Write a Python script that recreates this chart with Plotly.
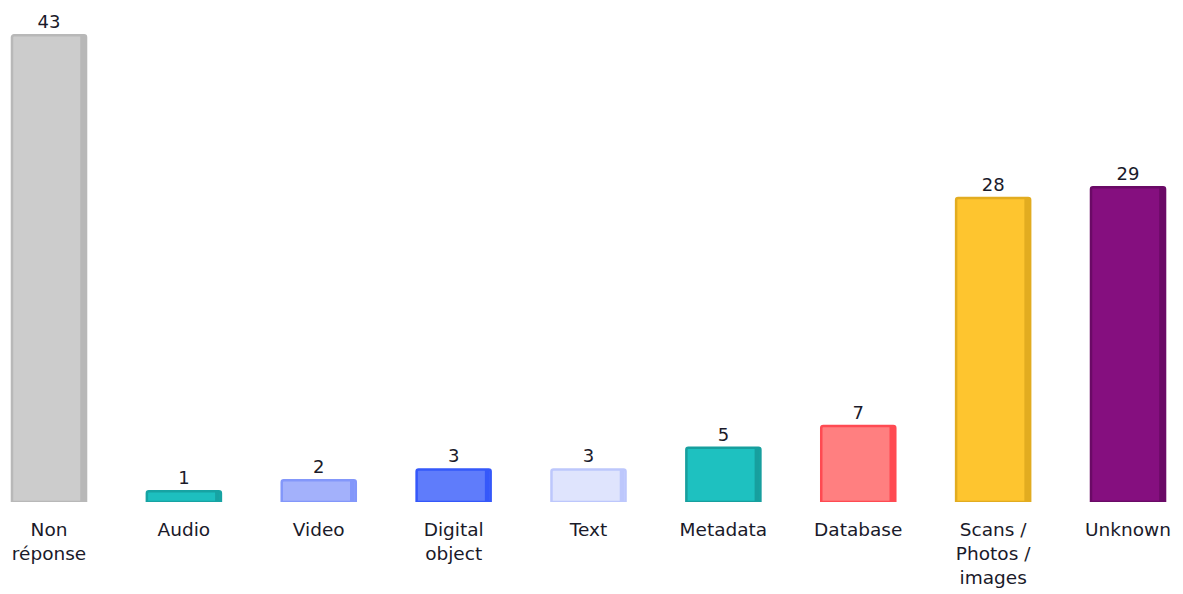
import plotly.graph_objects as go

categories = ["Non<br>réponse", "Audio", "Video", "Digital<br>object", "Text",
              "Metadata", "Database", "Scans /<br>Photos /<br>images", "Unknown"]
values = [43, 1, 2, 3, 3, 5, 7, 28, 29]
fill_colors = ["#cccccc", "#1dbfbf", "#a3b1fb", "#5f7cfb", "#dfe4fd",
               "#1ec1c0", "#ff7f80", "#fec52f", "#850f7f"]
edge_colors = ["#b8b8b8", "#17a3a3", "#8397fa", "#3558fa", "#bdc7fc",
               "#179f9e", "#ff4a52", "#e2ac20", "#6a0a66"]

x = list(range(len(categories)))
bw = 0.549
sw = 0.035

fig = go.Figure()
fig.add_trace(go.Bar(
    x=x, y=values, width=bw,
    marker=dict(color=fill_colors, line=dict(color=edge_colors, width=2.5), cornerradius=2),
    text=[str(v) for v in values], textposition="outside", cliponaxis=False,
    textfont=dict(family="DejaVu Sans", size=18, color="#1a1a2a"),
    hoverinfo="skip",
))
fig.add_trace(go.Bar(
    x=x, y=values, width=sw, offset=bw / 2 - sw - 0.008,
    marker=dict(color=edge_colors, line=dict(width=0)),
    hoverinfo="skip",
))

fig.update_layout(
    width=1183, height=594,
    margin=dict(l=0, r=0, t=5, b=100),
    barmode="overlay",
    showlegend=False,
    plot_bgcolor="white", paper_bgcolor="white",
    font=dict(family="DejaVu Sans", size=18.5, color="#1a1a2a"),
    xaxis=dict(range=[-0.304, 8.467], tickmode="array", tickvals=x, ticktext=categories,
               showgrid=False, zeroline=False, showline=False, ticks="",
               tickfont=dict(family="DejaVu Sans", size=18.5, color="#1a1a2a"),
               ticklabelstandoff=14, automargin=False),
    yaxis=dict(range=[0, 45.05], visible=False, showgrid=False, zeroline=False),
)

fig.write_html("out.html")
